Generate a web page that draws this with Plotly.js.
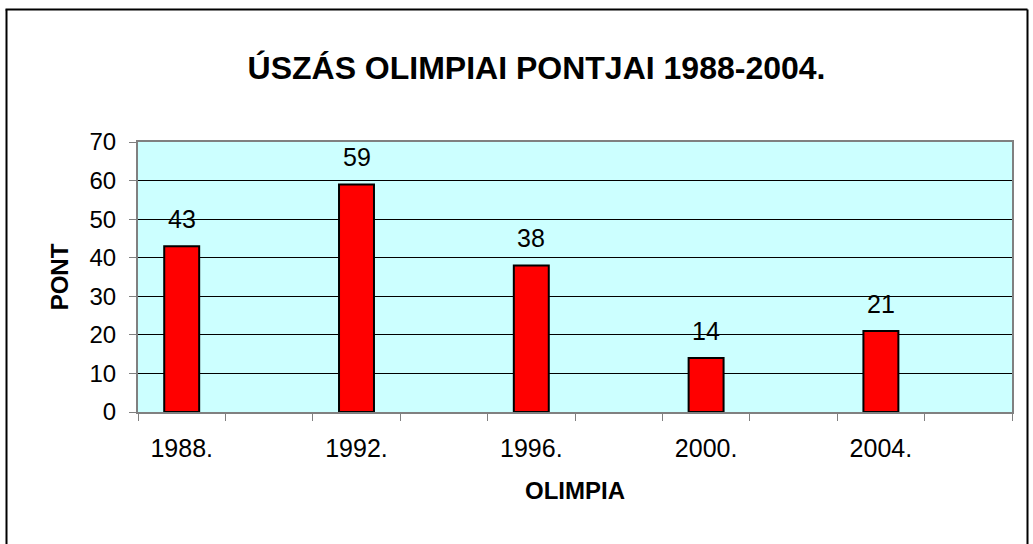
<!DOCTYPE html>
<html>
<head>
<meta charset="utf-8">
<script src="https://cdn.plot.ly/plotly-3.0.1.min.js"></script>
<style>
html,body{margin:0;padding:0;background:#fff;}
#chart{width:1033px;height:544px;}
</style>
</head>
<body>
<div id="chart"></div>
<script>
// Data
var years = ['1988.', '1992.', '1996.', '2000.', '2004.'];
var points = [43, 59, 38, 14, 21];
var slotsPerYear = 2; // each year occupies one labelled slot followed by an empty slot

var chartTitle = 'ÚSZÁS OLIMPIAI PONTJAI 1988-2004.';
var xTitle = 'OLIMPIA';
var yTitle = 'PONT';

var xPos = years.map(function (y, i) { return i * slotsPerYear; });
var nSlots = years.length * slotsPerYear;
var boundaries = [];
for (var b = 0; b <= nSlots; b++) boundaries.push(b - 0.5);

var FONT = 'Liberation Sans, Arial, sans-serif';

var trace = {
  type: 'bar',
  x: xPos,
  y: points,
  width: 0.4,
  marker: { color: '#FF0000', line: { color: '#000000', width: 2 } },
  hoverinfo: 'skip'
};

var annotations = xPos.map(function (x, i) {
  return {
    x: x, y: points[i], xref: 'x', yref: 'y',
    text: String(points[i]), showarrow: false,
    yanchor: 'bottom', yshift: 11,
    font: { family: FONT, size: 25, color: '#000' }
  };
});

// outer chart frame
var L = 138, R = 1012, T = 142, B = 412;
function px2x(p) { return (p - L) / (R - L); }
function py2y(p) { return (B - p) / (B - T); }
var frameStyle = { color: '#000', width: 2 };
var shapes = [
  { type: 'line', xref: 'paper', yref: 'paper', x0: px2x(6.5), x1: px2x(6.5), y0: py2y(9.5), y1: py2y(560), line: frameStyle },
  { type: 'line', xref: 'paper', yref: 'paper', x0: px2x(5.5), x1: px2x(1027.5), y0: py2y(9.5), y1: py2y(9.5), line: frameStyle },
  { type: 'line', xref: 'paper', yref: 'paper', x0: px2x(1027.5), x1: px2x(1027.5), y0: py2y(9.5), y1: py2y(560), line: frameStyle }
];

var layout = {
  width: 1033, height: 544,
  margin: { l: L, r: 1033 - R, t: T, b: 544 - B, pad: 0 },
  paper_bgcolor: '#ffffff',
  plot_bgcolor: '#CCFFFF',
  showlegend: false,
  bargap: 0,
  title: {
    text: '<b>' + chartTitle + '</b>',
    font: { family: FONT, size: 32, color: '#000' },
    xref: 'container', yref: 'container',
    x: 536.5 / 1033, xanchor: 'center',
    y: 1 - 68 / 544, yanchor: 'middle'
  },
  xaxis: {
    range: [-0.5, nSlots - 0.5],
    tickmode: 'array', tickvals: xPos, ticktext: years,
    ticks: '', showgrid: false, zeroline: false,
    showline: true, linecolor: '#808080', linewidth: 2, mirror: true,
    tickfont: { family: FONT, size: 25, color: '#000' },
    ticklabelstandoff: 13,
    minor: { tickmode: 'array', tickvals: boundaries, ticks: 'outside', ticklen: 7, tickwidth: 1, tickcolor: '#808080', showgrid: false },
    title: { text: '<b>' + xTitle + '</b>', font: { family: FONT, size: 24, color: '#000' }, standoff: 21 },
    fixedrange: true
  },
  yaxis: {
    range: [0, 70], dtick: 10, tick0: 0,
    ticks: 'outside', ticklen: 7, tickwidth: 1, tickcolor: '#808080',
    showgrid: true, gridcolor: '#000000', gridwidth: 1,
    zeroline: false,
    showline: true, linecolor: '#808080', linewidth: 2, mirror: true,
    tickfont: { family: FONT, size: 24, color: '#000' },
    ticklabelstandoff: 8,
    title: { text: '<b>' + yTitle + '</b>', font: { family: FONT, size: 24, color: '#000' }, standoff: 14 },
    fixedrange: true
  },
  annotations: annotations,
  shapes: shapes
};

Plotly.newPlot('chart', [trace], layout, { staticPlot: true, displayModeBar: false });
</script>
</body>
</html>
